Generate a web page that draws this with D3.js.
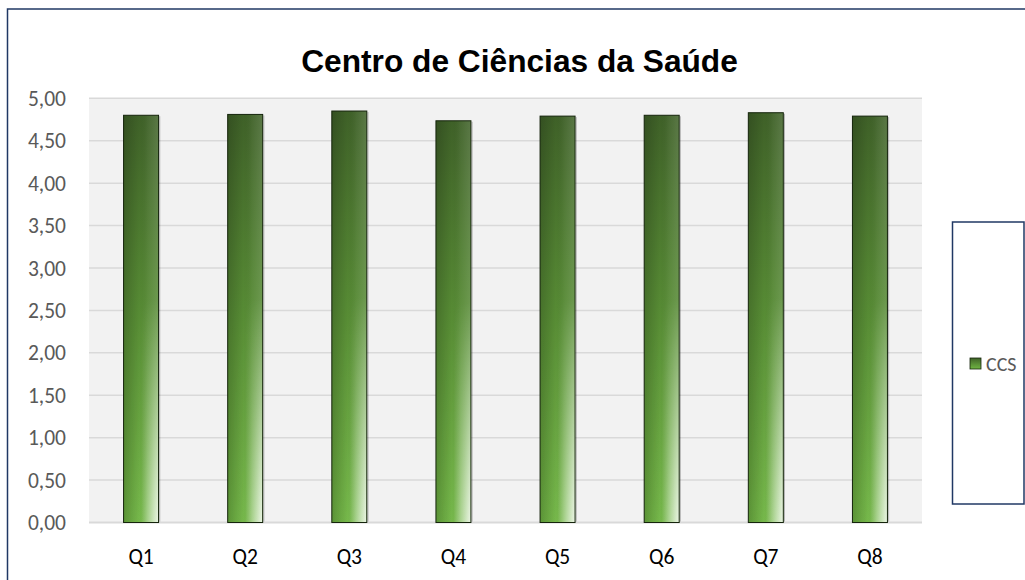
<!DOCTYPE html>
<html>
<head>
<meta charset="utf-8">
<script src="https://cdn.jsdelivr.net/npm/d3@7/dist/d3.min.js"></script>
<style>
  html, body { margin: 0; padding: 0; background: #fff; }
  svg { display: block; }
</style>
</head>
<body>
<svg id="chart" width="1025" height="580"></svg>
<script>
const title = "Centro de Ciências da Saúde";
const categories = ["Q1", "Q2", "Q3", "Q4", "Q5", "Q6", "Q7", "Q8"];
const values = [4.80, 4.81, 4.85, 4.735, 4.79, 4.80, 4.83, 4.79];
const seriesName = "CCS";
const yTicks = [0, 0.5, 1, 1.5, 2, 2.5, 3, 3.5, 4, 4.5, 5];

const svg = d3.select("#chart");
const labelFont = "Carlito, Calibri, Lato, 'Open Sans', sans-serif";

const plot = { left: 89, right: 922, top: 98.3, bottom: 522.5 };

const x = d3.scaleBand().domain(categories)
  .range([plot.left, plot.right])
  .paddingInner(0.664).paddingOuter(0.332);
const y = d3.scaleLinear().domain([0, 5]).range([plot.bottom, plot.top]);

// defs: gradients
const defs = svg.append("defs");
const gV = defs.append("linearGradient").attr("id", "gV")
  .attr("x1", 0).attr("y1", 0).attr("x2", 0).attr("y2", 1);
gV.append("stop").attr("offset", "0%").attr("stop-color", "#3f6128");
gV.append("stop").attr("offset", "55%").attr("stop-color", "#5a9136");
gV.append("stop").attr("offset", "100%").attr("stop-color", "#70b543");

const gH = defs.append("linearGradient").attr("id", "gH")
  .attr("x1", 0).attr("y1", 0).attr("x2", 1).attr("y2", 0);
gH.append("stop").attr("offset", "0%").attr("stop-color", "#000").attr("stop-opacity", 0.18);
gH.append("stop").attr("offset", "45%").attr("stop-color", "#000").attr("stop-opacity", 0.0);
gH.append("stop").attr("offset", "70%").attr("stop-color", "#fff").attr("stop-opacity", 0.05);
gH.append("stop").attr("offset", "100%").attr("stop-color", "#fff").attr("stop-opacity", 0.14);

const gW = defs.append("linearGradient").attr("id", "gW")
  .attr("x1", 0).attr("y1", 0).attr("x2", 1).attr("y2", 0);
gW.append("stop").attr("offset", "0%").attr("stop-color", "#fff").attr("stop-opacity", 0);
gW.append("stop").attr("offset", "50%").attr("stop-color", "#fff").attr("stop-opacity", 0.05);
gW.append("stop").attr("offset", "100%").attr("stop-color", "#fff").attr("stop-opacity", 0.85);

const gM = defs.append("linearGradient").attr("id", "gM")
  .attr("x1", 0).attr("y1", 0).attr("x2", 0).attr("y2", 1);
gM.append("stop").attr("offset", "0%").attr("stop-color", "#000");
gM.append("stop").attr("offset", "45%").attr("stop-color", "#000");
gM.append("stop").attr("offset", "100%").attr("stop-color", "#fff");
const mask = defs.append("mask").attr("id", "mV")
  .attr("maskContentUnits", "objectBoundingBox");
mask.append("rect").attr("x", 0).attr("y", 0).attr("width", 1).attr("height", 1)
  .attr("fill", "url(#gM)");

// outer chart border
svg.append("rect")
  .attr("x", 7.5).attr("y", 9).attr("width", 1040).attr("height", 600)
  .attr("fill", "#fff").attr("stroke", "#203864").attr("stroke-width", 1.5);

// plot background
svg.append("rect")
  .attr("x", plot.left).attr("y", plot.top)
  .attr("width", plot.right - plot.left).attr("height", plot.bottom - plot.top)
  .attr("fill", "#f2f2f2");

// gridlines
svg.append("g").selectAll("line").data(yTicks).join("line")
  .attr("x1", plot.left).attr("x2", plot.right)
  .attr("y1", d => y(d)).attr("y2", d => y(d))
  .attr("stroke", "#d9d9d9").attr("stroke-width", d => d === 0 ? 2 : 1.5);

// y labels
svg.append("g").selectAll("text").data(yTicks).join("text")
  .attr("x", 66).attr("y", d => y(d)).attr("dy", "0.35em")
  .attr("text-anchor", "end")
  .attr("font-family", labelFont).attr("font-size", 21.5)
  .attr("fill", "#595959")
  .text(d => d3.format(".2f")(d).replace(".", ","));

// bars
const bars = svg.append("g").selectAll("g").data(values).join("g");
const bx = (d, i) => x(categories[i]);
const by = d => y(d);
const bh = d => y(0) - y(d);
bars.append("rect")
  .attr("x", bx).attr("y", by).attr("width", x.bandwidth()).attr("height", bh)
  .attr("fill", "url(#gV)");
bars.append("rect")
  .attr("x", bx).attr("y", by).attr("width", x.bandwidth()).attr("height", bh)
  .attr("fill", "url(#gH)");
bars.append("rect")
  .attr("x", bx).attr("y", by).attr("width", x.bandwidth()).attr("height", bh)
  .attr("fill", "url(#gW)").attr("mask", "url(#mV)");
// right shadow
bars.append("line")
  .attr("x1", (d, i) => bx(d, i) + x.bandwidth() + 1.2)
  .attr("x2", (d, i) => bx(d, i) + x.bandwidth() + 1.2)
  .attr("y1", d => by(d) + 1).attr("y2", plot.bottom - 1)
  .attr("stroke", "#000").attr("stroke-opacity", 0.25).attr("stroke-width", 1);
bars.append("rect")
  .attr("x", bx).attr("y", by).attr("width", x.bandwidth()).attr("height", bh)
  .attr("fill", "none").attr("stroke", "#15240c").attr("stroke-width", 1);

// x labels
svg.append("g").selectAll("text").data(categories).join("text")
  .attr("x", d => x(d) + x.bandwidth() / 2).attr("y", 556).attr("dy", "0.35em")
  .attr("text-anchor", "middle")
  .attr("font-family", labelFont).attr("font-size", 21.5)
  .attr("fill", "#000")
  .text(d => d);

// title
svg.append("text")
  .attr("x", 519.5).attr("y", 72)
  .attr("text-anchor", "middle")
  .attr("font-family", "'Liberation Sans', Arial, sans-serif")
  .attr("font-weight", "bold").attr("font-size", 31.7)
  .attr("fill", "#000")
  .text(title);

// legend
svg.append("rect")
  .attr("x", 952.5).attr("y", 222).attr("width", 71.5).attr("height", 282)
  .attr("fill", "#fff").attr("stroke", "#203864").attr("stroke-width", 1.5);
svg.append("rect")
  .attr("x", 970).attr("y", 358).attr("width", 11).attr("height", 11)
  .attr("fill", "url(#gV)").attr("stroke", "#15240c").attr("stroke-width", 0.8);
svg.append("text")
  .attr("x", 986).attr("y", 364).attr("dy", "0.35em")
  .attr("font-family", labelFont).attr("font-size", 20)
  .attr("fill", "#595959")
  .text(seriesName);
</script>
</body>
</html>
